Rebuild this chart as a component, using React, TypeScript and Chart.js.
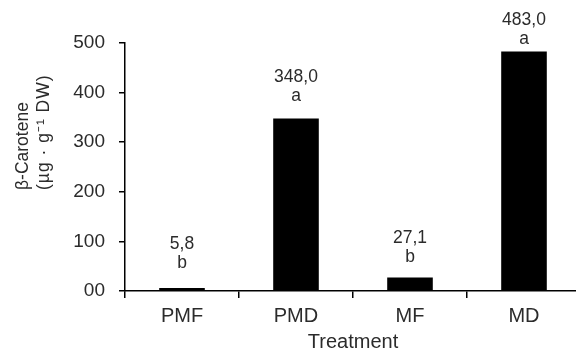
import React, { useEffect, useRef } from "react";
import { Chart, registerables } from "chart.js";

Chart.register(...registerables);

const categories = ["PMF", "PMD", "MF", "MD"];
const values = [5.8, 348.0, 27.1, 483.0];
const valueLabels = ["5,8", "348,0", "27,1", "483,0"];
const letters = ["b", "a", "b", "a"];
const yTicks = [0, 100, 200, 300, 400, 500];
const labelGap = [20, 17, 16, 7];

const FONT = "'Liberation Sans', Arial, Helvetica, sans-serif";
const TEXT = "#2b2b2b";

const barLabels = {
  id: "barLabels",
  afterDatasetsDraw(chart: any) {
    const ctx = chart.ctx;
    const meta = chart.getDatasetMeta(0);
    ctx.save();
    ctx.fillStyle = TEXT;
    ctx.font = `17.5px ${FONT}`;
    ctx.textAlign = "center";
    ctx.textBaseline = "alphabetic";
    meta.data.forEach((bar: any, i: number) => {
      const x = bar.x;
      const yb = bar.y - labelGap[i];
      ctx.fillText(letters[i], x, yb);
      ctx.fillText(valueLabels[i], x, yb - 19);
    });
    ctx.restore();
  },
};

const yTitle = {
  id: "yTitle",
  afterDraw(chart: any) {
    const ctx = chart.ctx;
    ctx.save();
    ctx.fillStyle = TEXT;
    ctx.textAlign = "left";
    ctx.textBaseline = "middle";
    ctx.translate(23, 190);
    ctx.rotate(-Math.PI / 2);
    ctx.font = `17.5px ${FONT}`;
    (ctx as any).letterSpacing = "0px";
    ctx.fillText("β-Carotene", 0, 0);
    (ctx as any).letterSpacing = "1px";
    ctx.fillText("(µg · g⁻¹ DW)", 0, 21);
    ctx.restore();
  },
};

export default function App() {
  const ref = useRef<HTMLCanvasElement | null>(null);
  useEffect(() => {
    if (!ref.current) return;
    const chart = new Chart(ref.current, {
      type: "bar",
      data: {
        labels: categories,
        datasets: [
          {
            data: values,
            backgroundColor: "#000000",
            borderWidth: 0,
            barPercentage: 0.4,
            categoryPercentage: 1,
          },
        ],
      },
      options: {
        animation: false,
        responsive: false,
        events: [],
        layout: { padding: { top: 43, left: 0, right: 1, bottom: 0 } },
        plugins: { legend: { display: false }, tooltip: { enabled: false } },
        scales: {
          x: {
            offset: true,
            grid: {
              display: true,
              drawOnChartArea: false,
              offset: true,
              tickLength: 7,
              color: "#000",
              lineWidth: 1.5,
            },
            border: { display: true, color: "#000", width: 1.5 },
            ticks: {
              color: TEXT,
              font: { family: FONT, size: 20 },
              padding: 6,
            },
            title: {
              display: true,
              text: "Treatment",
              color: TEXT,
              font: { family: FONT, size: 20 },
              padding: { top: 0, bottom: 0 },
            },
            afterFit(scale: any) {
              scale.height = 63;
            },
          },
          y: {
            min: 0,
            max: 500,
            afterBuildTicks(scale: any) {
              scale.ticks = yTicks.map((v) => ({ value: v }));
            },
            grid: {
              display: true,
              drawOnChartArea: false,
              tickLength: 6,
              color: "#000",
              lineWidth: 1.5,
            },
            border: { display: true, color: "#000", width: 1.5 },
            ticks: {
              color: TEXT,
              font: { family: FONT, size: 19 },
              padding: 14,
              callback: (v: any) => (Number(v) === 0 ? "00" : String(v)),
            },
            afterFit(scale: any) {
              scale.width = 125;
            },
          },
        },
      },
      plugins: [barLabels, yTitle],
    });
    return () => chart.destroy();
  }, []);
  return (
    <div style={{ position: "fixed", left: 0, top: 0, width: 576, height: 354, overflow: "hidden", background: "#fff" }}>
      <canvas ref={ref} width={582} height={354} style={{ display: "block", width: 582, height: 354 }} />
    </div>
  );
}
